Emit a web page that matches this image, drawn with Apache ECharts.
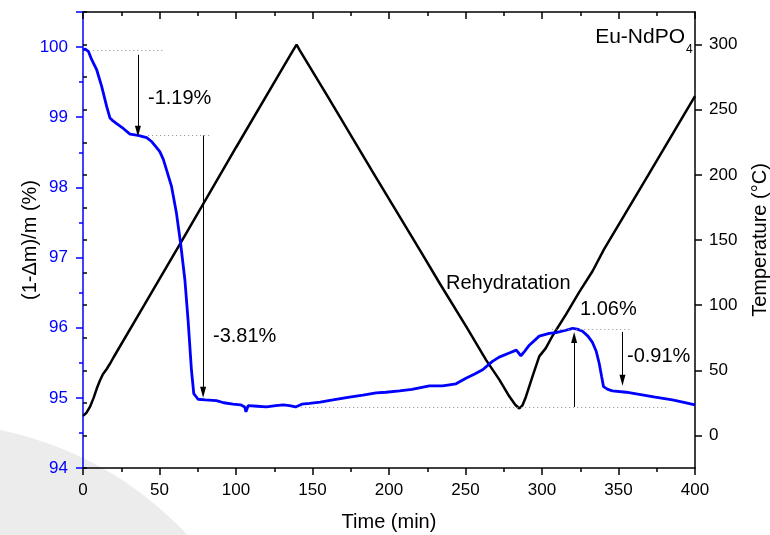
<!DOCTYPE html>
<html>
<head>
<meta charset="utf-8">
<script src="https://cdn.jsdelivr.net/npm/echarts@6/dist/echarts.min.js"></script>
<style>html,body{margin:0;background:#fff}#chart{width:770px;height:535px}</style>
</head>
<body>
<div id="chart"></div>
<script>
// mass loss curve (left axis, %)
const massTime = [0, 1.5, 3.5, 5.7, 8.9, 12.2, 15.5, 17.6, 19, 22, 26.3, 30.7, 36, 41.6, 45, 48, 50.2, 52.5, 54.6, 57.9, 61.1, 63.8, 66.6, 68.7, 70.9, 72.4, 75.2, 80, 87.2, 92, 98, 103, 105.7, 106.5, 108, 114, 119.9, 126, 131, 135, 139, 143, 148, 155, 163.3, 174.2, 183, 191.6, 198, 206.9, 215, 226.4, 235, 243.8, 250.3, 256, 261.2, 267.6, 272, 278.6, 283.2, 286.2, 288.5, 291.7, 298.2, 304.7, 309.1, 315, 320, 323, 326.5, 330, 333, 335.5, 337.4, 339, 340.2, 343, 346, 355, 363.5, 374, 385.2, 392, 400];
const massPct = [99.96, 99.97, 99.94, 99.82, 99.68, 99.44, 99.15, 98.99, 98.96, 98.91, 98.84, 98.76, 98.74, 98.71, 98.65, 98.57, 98.51, 98.40, 98.25, 98.01, 97.63, 97.20, 96.68, 96.10, 95.39, 95.06, 94.98, 94.97, 94.96, 94.93, 94.91, 94.90, 94.87, 94.80, 94.89, 94.88, 94.87, 94.89, 94.90, 94.89, 94.87, 94.91, 94.92, 94.94, 94.97, 95.01, 95.04, 95.07, 95.08, 95.10, 95.12, 95.17, 95.17, 95.20, 95.28, 95.34, 95.40, 95.52, 95.58, 95.64, 95.68, 95.60, 95.66, 95.75, 95.88, 95.92, 95.93, 95.96, 95.99, 95.98, 95.95, 95.88, 95.79, 95.66, 95.49, 95.30, 95.16, 95.12, 95.10, 95.08, 95.05, 95.01, 94.97, 94.94, 94.90];

// temperature programme (right axis, °C)
const tempTime = [0, 2, 4.6, 7, 9, 11, 13, 15.5, 17.6, 20, 40, 64.4, 100, 130, 137.5, 139.6, 141.5, 160, 190, 220, 233, 250.4, 263.4, 272.1, 278.6, 282.5, 285.2, 287.2, 289.5, 293.8, 298.2, 302.5, 306.8, 315.6, 324.3, 333, 340.6, 370, 400];
const tempC = [15, 17, 22, 29, 36, 42, 47, 51, 55, 60, 100, 149, 221, 281, 296, 300, 296, 260, 201, 142.6, 117, 83.7, 58, 42.8, 30, 23.5, 20.7, 23, 29.7, 45.3, 60.7, 67, 76.3, 92.7, 110, 126, 143, 201, 260.5];

// annotation guides: [time from, time to, level %]
const dottedLines = [[6.7, 53.5, 99.96], [42.6, 83, 98.74], [140, 383, 94.87], [306.7, 358, 95.98]];
// arrows: [time, from %, to %]
const arrows = [[35.9, 99.89, 98.80], [78.5, 98.74, 95.08], [321, 94.87, 95.86], [352.6, 95.94, 95.25]];

const tempTicks = [0, 50, 100, 150, 200, 250, 300];

const blue = '#0000ff';
const ff = 'Liberation Sans, Arial, sans-serif';

const chart = echarts.init(document.getElementById('chart'));

const markData = [];
dottedLines.forEach(d => {
  markData.push([
    {coord: [d[0], d[2]], symbol: 'none', lineStyle: {type: [1, 3], color: '#8c8c8c', width: 1}},
    {coord: [d[1], d[2]], symbol: 'none'}
  ]);
});
arrows.forEach(a => {
  markData.push([
    {coord: [a[0], a[1]], symbol: 'none', lineStyle: {type: 'solid', color: '#000', width: 1}},
    {coord: [a[0], a[2]], symbol: 'triangle', symbolSize: [6, 11]}
  ]);
});

const note = (x, y, text) => ({
  type: 'text', x: x, y: y,
  style: {text: text, fontSize: 20, fontFamily: ff, fill: '#000', verticalAlign: 'middle'}
});

const option = {
  backgroundColor: '#fff',
  animation: false,
  grid: {left: 83, right: 75, top: 12, bottom: 67, outerBoundsMode: 'none', containLabel: false},
  graphic: [
    {type: 'circle', silent: true, z: -10, shape: {cx: -70, cy: 775, r: 352}, style: {fill: '#ececec'}},
    note(148, 98, '-1.19%'),
    note(213, 336, '-3.81%'),
    note(446, 283, 'Rehydratation'),
    note(580, 309, '1.06%'),
    note(627, 356, '-0.91%'),
    {type: 'text', x: 685, y: 37, style: {text: 'Eu-NdPO', fontSize: 21, fontFamily: ff, fill: '#000', align: 'right', verticalAlign: 'middle'}},
    {type: 'text', x: 686, y: 50, style: {text: '4', fontSize: 12, fontFamily: ff, fill: '#000', verticalAlign: 'middle'}}
  ],
  xAxis: [
    {
      type: 'value', min: 0, max: 400, interval: 50, position: 'bottom',
      name: 'Time (min)', nameLocation: 'middle', nameGap: 44, nameMoveOverlap: false,
      nameTextStyle: {fontSize: 20, color: '#000', fontFamily: ff},
      axisLine: {onZero: false, lineStyle: {color: '#000', width: 1.5}},
      axisTick: {length: 7, lineStyle: {color: '#000', width: 1.5}},
      minorTick: {show: true, splitNumber: 2, length: 4, lineStyle: {color: '#000', width: 1.5}},
      axisLabel: {fontSize: 17, color: '#000', fontFamily: ff, margin: 14},
      splitLine: {show: false}
    },
    {
      type: 'value', min: 0, max: 400, interval: 50, position: 'top',
      axisLine: {onZero: false, lineStyle: {color: '#000', width: 1.5}},
      axisTick: {inside: true, length: 7, lineStyle: {color: '#000', width: 1.5}},
      minorTick: {show: true, splitNumber: 2, length: 4, lineStyle: {color: '#000', width: 1.5}},
      axisLabel: {show: false},
      splitLine: {show: false}
    }
  ],
  yAxis: [
    {
      type: 'value', min: 94, max: 100.5, interval: 1, position: 'left',
      name: '(1-\u0394m)/m (%)', nameLocation: 'middle', nameGap: 43, nameMoveOverlap: false,
      nameTextStyle: {fontSize: 20, color: '#000', fontFamily: ff},
      axisLine: {onZero: false, lineStyle: {color: blue, width: 1.5}},
      axisTick: {length: 7, lineStyle: {color: blue, width: 1.5}},
      minorTick: {show: true, splitNumber: 2, length: 4, lineStyle: {color: blue, width: 1.5}},
      axisLabel: {fontSize: 17, color: blue, fontFamily: ff, margin: 15,
        formatter: v => Number.isInteger(v) ? String(v) : ''},
      splitLine: {show: false}
    },
    {
      type: 'value', min: -25, max: 325, interval: 25, position: 'right',
      name: 'Temperature (\u00b0C)', nameLocation: 'middle', nameGap: 55, nameMoveOverlap: false,
      nameTextStyle: {fontSize: 20, color: '#000', fontFamily: ff},
      axisLine: {onZero: false, lineStyle: {color: '#000', width: 1.5}},
      axisTick: {length: 7, customValues: tempTicks, lineStyle: {color: '#000', width: 1.5}},
      axisLabel: {fontSize: 17, color: '#000', fontFamily: ff, margin: 14, customValues: tempTicks,
        formatter: v => (v % 50 === 0 && v >= 0 && v <= 300) ? String(v) : ''},
      splitLine: {show: false}
    },
    {
      type: 'value', min: -25, max: 325, interval: 25, position: 'right',
      axisLine: {show: false},
      axisTick: {length: 4, lineStyle: {color: '#000', width: 1.5}},
      axisLabel: {show: false},
      splitLine: {show: false}
    }
  ],
  series: [
    {
      type: 'line', xAxisIndex: 0, yAxisIndex: 1, showSymbol: false, symbol: 'none',
      data: tempTime.map((t, i) => [t, tempC[i]]),
      lineStyle: {color: '#000', width: 2.5}, z: 3
    },
    {
      type: 'line', xAxisIndex: 0, yAxisIndex: 0, showSymbol: false, symbol: 'none',
      data: massTime.map((t, i) => [t, massPct[i]]),
      lineStyle: {color: blue, width: 2.8}, z: 4
    },
    {
      type: 'line', xAxisIndex: 0, yAxisIndex: 0, data: [], z: 2,
      markLine: {
        silent: true, animation: false, symbol: 'none',
        label: {show: false},
        itemStyle: {color: '#000'},
        lineStyle: {color: '#000', width: 1, type: 'solid'},
        data: markData
      }
    }
  ]
};
chart.setOption(option);
</script>
</body>
</html>
